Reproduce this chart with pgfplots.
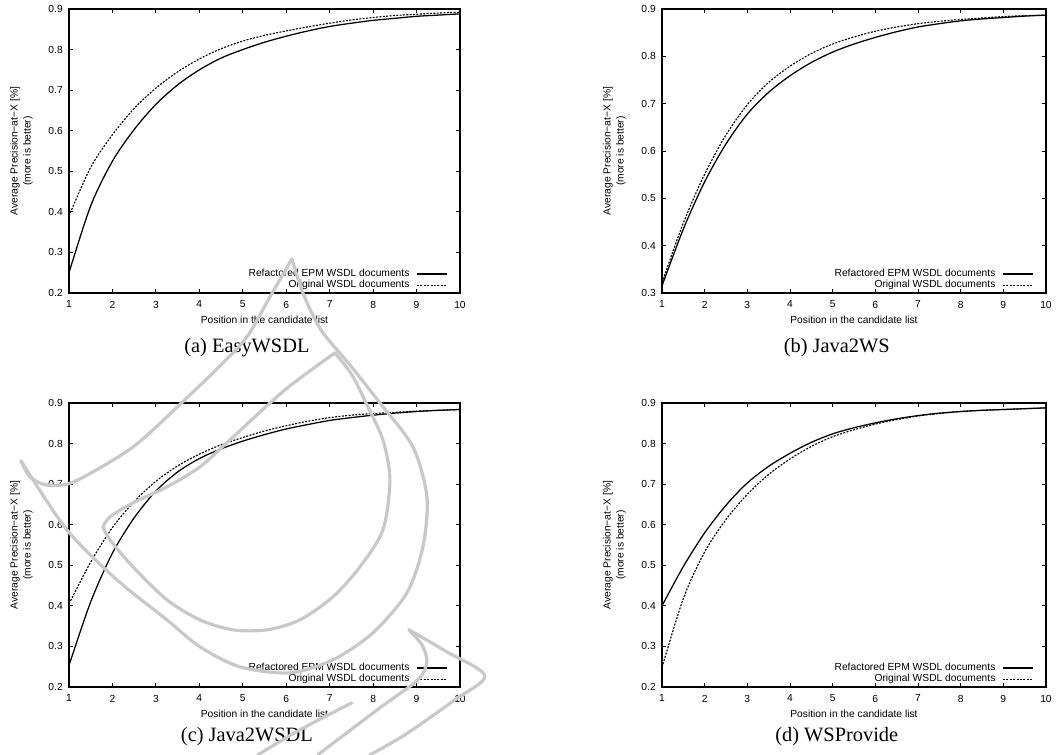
\documentclass[border=0pt]{standalone}
\usepackage{fontspec}
\setmainfont{Liberation Serif}
\setsansfont{Liberation Sans}
\usepackage{pgfplots}
\pgfplotsset{compat=1.18}

\definecolor{wm}{HTML}{C8C8C8}
\newcommand{\gpfont}{\sffamily\fontsize{7.3pt}{9.2pt}\selectfont}

% gnuplot-like look shared by the four panels
\pgfplotsset{
  gp/.style={
    scale only axis,
    height=7.1cm,
    xmin=1, xmax=10, xtick={1,...,10},
    ytick distance=0.1,
    tick align=inside,
    major tick length=0.09cm,
    axis line style={line width=0.9pt},
    every tick/.style={black, line width=0.6pt},
    tick label style={font=\gpfont},
    /pgf/number format/assume math mode=true,
    yticklabel style={/pgf/number format/fixed, /pgf/number format/fixed zerofill,
      /pgf/number format/precision=1, inner sep=0pt, xshift=-0.15cm},
    xticklabel style={inner sep=0pt, yshift=-0.19cm},
    xlabel={Position in the candidate list},
    xlabel style={font=\gpfont, at={(axis description cs:0.5,0)}, anchor=center, yshift=-0.675cm},
    ylabel={Average Precision−at−X [\%]\\(more is better)},
    ylabel style={font=\gpfont, align=center, anchor=center},
    legend cell align=right,
    legend plot pos=right,
    legend style={draw=none, fill=none, font=\gpfont,
      at={(axis description cs:1,0)}, anchor=south east,
      xshift=-0.3cm, yshift=0.07cm, inner sep=0pt,
      row sep=0.04cm, column sep=0.175cm, nodes={inner sep=0pt}},
    legend image code/.code={\draw[##1] (0cm,0cm) -- (0.75cm,0cm);},
  },
  refl/.style={black, line width=0.9pt, smooth},
  origl/.style={black, line width=0.8pt, dash pattern=on 1.4pt off 1pt, smooth},
}

\begin{document}
\begin{tikzpicture}
\path[use as bounding box] (0,0) rectangle (26.55cm,-18.875cm);

% (a) EasyWSDL
\begin{axis}[gp, at={(1.725cm,-7.325cm)}, anchor=south west, width=9.775cm,
  ymin=0.2, ymax=0.9, ylabel style={at={(axis description cs:-0.1215,0.5)}}]
\addplot[refl] coordinates {(1,0.25) (1.5,0.415) (2,0.525) (2.5,0.603) (3,0.665) (3.5,0.713)
  (4,0.750) (4.5,0.779) (5,0.800) (5.5,0.818) (6,0.833) (6.5,0.846) (7,0.857) (7.5,0.865)
  (8,0.872) (8.5,0.877) (9,0.882) (9.5,0.885) (10,0.888)};
\addlegendentry{Refactored EPM WSDL documents}
\addplot[origl] coordinates {(1,0.39) (1.5,0.51) (2,0.59) (2.5,0.655) (3,0.705) (3.5,0.745)
  (4,0.777) (4.5,0.802) (5,0.821) (5.5,0.835) (6,0.846) (6.5,0.856) (7,0.865) (7.5,0.873)
  (8,0.879) (8.5,0.884) (9,0.887) (9.5,0.890) (10,0.892)};
\addlegendentry{Original WSDL documents}
\end{axis}

% (b) Java2WS
\begin{axis}[gp, at={(16.55cm,-7.325cm)}, anchor=south west, width=9.6cm,
  ymin=0.3, ymax=0.9, ylabel style={at={(axis description cs:-0.1237,0.5)}}]
\addplot[refl] coordinates {(1,0.315) (1.5,0.435) (2,0.535) (2.5,0.615) (3,0.678) (3.5,0.724)
  (4,0.759) (4.5,0.787) (5,0.809) (5.5,0.826) (6,0.840) (6.5,0.852) (7,0.862) (7.5,0.869)
  (8,0.875) (8.5,0.879) (9,0.882) (9.5,0.885) (10,0.887)};
\addlegendentry{Refactored EPM WSDL documents}
\addplot[origl] coordinates {(1,0.322) (1.5,0.448) (2,0.551) (2.5,0.634) (3,0.698) (3.5,0.745)
  (4,0.779) (4.5,0.806) (5,0.826) (5.5,0.841) (6,0.853) (6.5,0.862) (7,0.869) (7.5,0.874)
  (8,0.878) (8.5,0.881) (9,0.884) (9.5,0.886) (10,0.887)};
\addlegendentry{Original WSDL documents}
\end{axis}

% (c) Java2WSDL
\begin{axis}[gp, at={(1.725cm,-17.175cm)}, anchor=south west, width=9.775cm,
  ymin=0.2, ymax=0.9, ylabel style={at={(axis description cs:-0.1215,0.5)}}]
\addplot[refl] coordinates {(1,0.253) (1.5,0.41) (2,0.53) (2.5,0.617) (3,0.683) (3.5,0.730)
  (4,0.763) (4.5,0.787) (5,0.806) (5.5,0.822) (6,0.836) (6.5,0.847) (7,0.857) (7.5,0.864)
  (8,0.870) (8.5,0.875) (9,0.879) (9.5,0.882) (10,0.884)};
\addlegendentry{Refactored EPM WSDL documents}
\addplot[origl] coordinates {(1,0.405) (1.5,0.508) (2,0.593) (2.5,0.657) (3,0.707) (3.5,0.745)
  (4,0.774) (4.5,0.797) (5,0.815) (5.5,0.831) (6,0.844) (6.5,0.855) (7,0.864) (7.5,0.870)
  (8,0.874) (8.5,0.877) (9,0.880) (9.5,0.882) (10,0.884)};
\addlegendentry{Original WSDL documents}
\end{axis}

% (d) WSProvide
\begin{axis}[gp, at={(16.55cm,-17.175cm)}, anchor=south west, width=9.6cm,
  ymin=0.2, ymax=0.9, ylabel style={at={(axis description cs:-0.1237,0.5)}}]
\addplot[refl] coordinates {(1,0.40) (1.5,0.497) (2,0.58) (2.5,0.648) (3,0.703) (3.5,0.744)
  (4,0.776) (4.5,0.803) (5,0.824) (5.5,0.839) (6,0.851) (6.5,0.861) (7,0.869) (7.5,0.875)
  (8,0.879) (8.5,0.882) (9,0.884) (9.5,0.886) (10,0.888)};
\addlegendentry{Refactored EPM WSDL documents}
\addplot[origl] coordinates {(1,0.248) (1.5,0.418) (2,0.533) (2.5,0.613) (3,0.675) (3.5,0.724)
  (4,0.762) (4.5,0.793) (5,0.817) (5.5,0.834) (6,0.848) (6.5,0.859) (7,0.868) (7.5,0.874)
  (8,0.879) (8.5,0.882) (9,0.884) (9.5,0.886) (10,0.888)};
\addlegendentry{Original WSDL documents}
\end{axis}

% captions and the grey page watermark, in pixel units of the page
\begin{scope}[x=0.025cm, y=-0.025cm]
\begin{scope}[font=\fontsize{14.5pt}{17pt}\selectfont]
\node[anchor=base] at (247,353) {(a) EasyWSDL};
\node[anchor=base] at (837,353) {(b) Java2WS};
\node[anchor=base] at (247,742) {(c) Java2WSDL};
\node[anchor=base] at (837,742) {(d) WSProvide};
\end{scope}
\begin{scope}[wm, line width=0.08cm, line cap=round, line join=round]
\draw plot[smooth] coordinates {(292,259) (303,293) (321,330) (350,365) (380,403) (413,447)
  (427,497) (423,547) (407,593) (373,633) (333,660) (290,673) (240,667) (200,647)
  (167,620) (117,580) (67,530) (21,461)};
\draw plot[smooth] coordinates {(292,259) (270,297) (247,337) (220,366) (190,395) (137,444)
  (93,472) (68,484) (46,485) (30,477) (21,461)};
\draw plot[smooth] coordinates {(335,353) (352,375) (367,405) (383,440) (390,480) (383,530)
  (360,567) (333,597) (300,620) (267,630) (233,630) (200,620) (167,600) (133,567)
  (110,540) (103,527)};
\draw plot[smooth] coordinates {(103,527) (110,517) (133,503) (167,487) (200,467) (230,440)
  (285,390) (335,353)};
\draw plot[smooth] coordinates {(409,630) (447,652) (485,676) (455,700) (405,735) (370,755)};
\draw plot[smooth] coordinates {(409,630) (422,645) (427,662) (418,680) (380,708) (335,742) (318,755)};
\draw plot[smooth] coordinates {(352,703) (300,730) (258,755)};
\end{scope}
\end{scope}
\end{tikzpicture}
\end{document}
